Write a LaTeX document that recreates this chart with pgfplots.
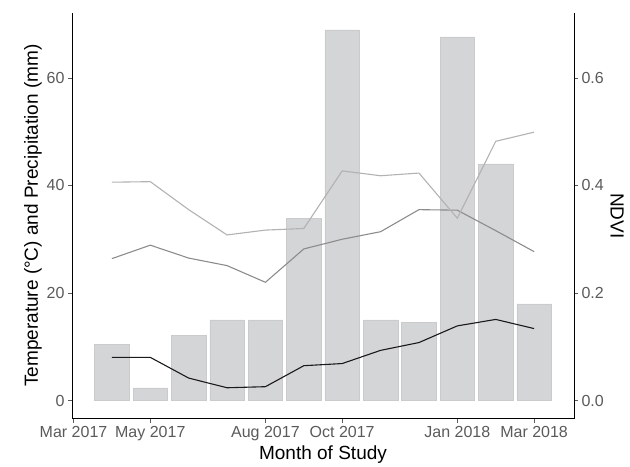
\documentclass[border=0pt]{standalone}
\usepackage{pgfplots}
\pgfplotsset{compat=1.18}
\usepackage{fontspec}
\setmainfont{Liberation Sans}
\definecolor{barfill}{HTML}{D4D5D7}
\definecolor{baredge}{HTML}{CACBCD}
\definecolor{lightline}{HTML}{B2B2B5}
\definecolor{midline}{HTML}{8C8C8C}
\definecolor{darkline}{HTML}{1A1A1A}
\definecolor{ticklab}{HTML}{5A5A5A}
\pgfplotstableread{
m prec
1 10.4
2 2.4
3 12.1
4 15.0
5 15.0
6 33.9
7 68.9
8 15.0
9 14.5
10 67.6
11 44.0
12 18.0
}\prectable
\pgfplotstableread{
m val
1 26.4
2 28.9
3 26.5
4 25.1
5 22.0
6 28.2
7 30.0
8 31.4
9 35.5
10 35.4
11 31.6
12 27.7
}\midtable
\pgfplotstableread{
m val
1 8.05
2 8.05
3 4.2
4 2.4
5 2.6
6 6.5
7 6.9
8 9.35
9 10.8
10 13.9
11 15.1
12 13.4
}\darktable
\pgfplotstableread{
m ndvi
1 0.406
2 0.407
3 0.355
4 0.308
5 0.317
6 0.320
7 0.427
8 0.418
9 0.423
10 0.339
11 0.482
12 0.499
}\ndvitable
\begin{document}
\begin{tikzpicture}
\pgfplotsset{
  common/.style={
    scale only axis, width=502pt, height=406pt,
    xmin=-0.04, xmax=13.04,
    tick align=outside, major tick length=4pt,
    tick style={ticklab, line width=0.6pt},
    axis line style={-, black, line width=0.8pt},
    tick label style={font=\fontsize{16}{16}\selectfont, text=ticklab},
    label style={font=\fontsize{19}{19}\selectfont, text=black},
    /pgf/number format/assume math mode=true,
  }
}
\begin{axis}[common, name=ax,
  ymin=-3.35, ymax=72.1,
  axis x line*=bottom, axis y line*=left,
  xtick={0,2,5,7,10,12},
  xticklabels={Mar 2017, May 2017, Aug 2017, Oct 2017, Jan 2018, Mar 2018},
  ytick={0,20,40,60},
  xlabel={Month of Study},
  ylabel={Temperature (°C) and Precipitation (mm)},
  xlabel style={yshift=2pt},
  ylabel style={yshift=-2pt},
]
\addplot[ybar, bar width=0.9, fill=barfill, draw=baredge, line width=0.5pt] table[x=m, y=prec] {\prectable};
\addplot[midline, line width=1.1pt] table[x=m, y=val] {\midtable};
\addplot[darkline, line width=1.1pt] table[x=m, y=val] {\darktable};
\end{axis}
\begin{axis}[common,
  ymin=-0.0335, ymax=0.721,
  axis x line=none, axis y line*=right,
  ytick={0,0.2,0.4,0.6},
  yticklabels={0.0,0.2,0.4,0.6},
  ylabel={NDVI},
  ylabel style={rotate=180},
]
\addplot[lightline, line width=1.1pt] table[x=m, y=ndvi] {\ndvitable};
\end{axis}
\path (ax.south west) ++(-72pt,-47pt);
\path (ax.north east) ++(56pt,12.7pt);
\end{tikzpicture}
\end{document}
